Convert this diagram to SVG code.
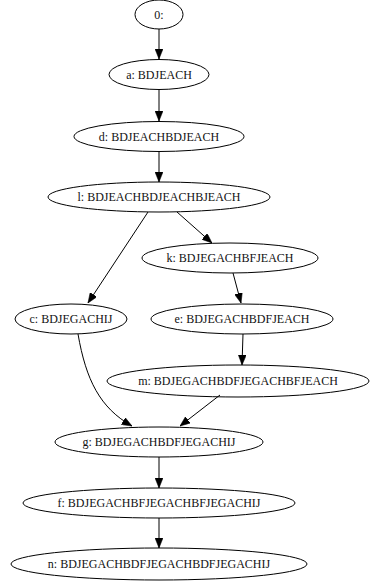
<svg xmlns="http://www.w3.org/2000/svg" width="370" height="581" viewBox="0 0 370 581">
<style>
.node ellipse{fill:none;stroke:#000;stroke-width:1}
.node text{font-family:"Liberation Serif","Times New Roman",serif;font-size:12px;fill:#111;text-anchor:middle}
#edges path{fill:none;stroke:#000;stroke-width:1;marker-end:url(#arr)}
</style>
<defs>
<marker id="arr" markerWidth="10" markerHeight="8" refX="10" refY="4" orient="auto" markerUnits="userSpaceOnUse">
<path d="M0,0 L10,4 L0,8 Z" fill="#000" stroke="#000" stroke-width="0.5"/>
</marker>
</defs>
<rect width="370" height="581" fill="#fff"/>
<g id="edges">
<path d="M159,29 L159,59"/>
<path d="M159,90 L159,121"/>
<path d="M159,152 L159,182"/>
<path d="M148,212 L88,303"/>
<path d="M177,212 L212,243"/>
<path d="M233,273 L241,303"/>
<path d="M243,334 L242,365"/>
<path d="M78,334 C86,380 100,408 132,426"/>
<path d="M220,395 L180,426"/>
<path d="M159,457 L159,488"/>
<path d="M159,518 L159,548"/>
</g>
<g id="n0" class="node"><ellipse cx="159" cy="14.5" rx="24" ry="14.5"/><text x="159" y="18.5">0:</text></g>
<g id="na" class="node"><ellipse cx="159" cy="74.5" rx="50" ry="15"/><text x="159" y="78.5">a: BDJEACH</text></g>
<g id="nd" class="node"><ellipse cx="159" cy="136.5" rx="85" ry="15"/><text x="159" y="140.5">d: BDJEACHBDJEACH</text></g>
<g id="nl" class="node"><ellipse cx="159" cy="197" rx="111" ry="15"/><text x="159" y="201">l: BDJEACHBDJEACHBJEACH</text></g>
<g id="nk" class="node"><ellipse cx="230" cy="258" rx="88" ry="15"/><text x="230" y="262">k: BDJEGACHBFJEACH</text></g>
<g id="nc" class="node"><ellipse cx="71" cy="319" rx="56" ry="15"/><text x="71" y="323">c: BDJEGACHIJ</text></g>
<g id="ne" class="node"><ellipse cx="242" cy="319" rx="91" ry="15"/><text x="242" y="323">e: BDJEGACHBDFJEACH</text></g>
<g id="nm" class="node"><ellipse cx="238" cy="381" rx="131" ry="16"/><text x="238" y="385">m: BDJEGACHBDFJEGACHBFJEACH</text></g>
<g id="ng" class="node"><ellipse cx="159" cy="442" rx="104" ry="15"/><text x="159" y="446">g: BDJEGACHBDFJEGACHIJ</text></g>
<g id="nf" class="node"><ellipse cx="159" cy="503" rx="136" ry="15"/><text x="159" y="507">f: BDJEGACHBFJEGACHBFJEGACHIJ</text></g>
<g id="nn" class="node"><ellipse cx="159" cy="564" rx="148" ry="16"/><text x="159" y="568">n: BDJEGACHBDFJEGACHBDFJEGACHIJ</text></g>
</svg>
